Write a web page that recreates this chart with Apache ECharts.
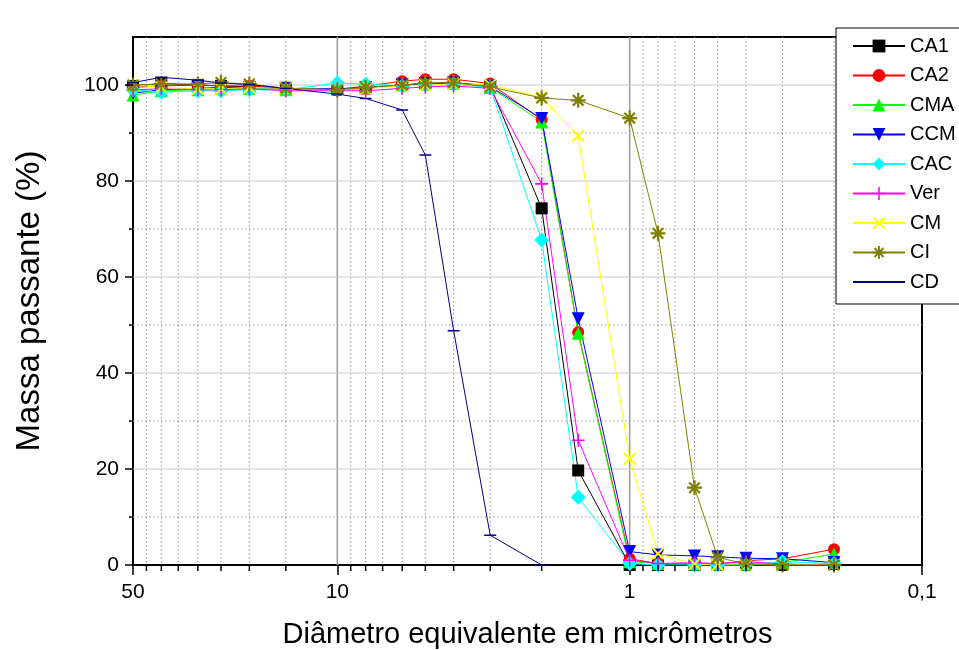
<!DOCTYPE html>
<html><head><meta charset="utf-8">
<script src="https://cdn.jsdelivr.net/npm/echarts@6/dist/echarts.min.js"></script>
<style>html,body{margin:0;padding:0;background:#fff}#c{width:959px;height:650px}</style>
</head><body><div id="c"></div>
<script>
// ---- data ----
const diameters = [50, 40, 30, 25, 20, 15, 10, 8, 6, 5, 4, 3, 2, 1.5, 1, 0.8, 0.6, 0.5, 0.4, 0.3, 0.2];
const CA1 = [99.8, 100.3, 100.0, 99.8, 99.6, 99.3, 99.0, 99.3, 100.0, 100.3, 100.5, 99.8, 74.3, 19.7, 0.0, 0.0, 0.0, 0.0, 0.0, 0.0, 0.2];
const CA2 = [99.5, 99.8, 100.0, 99.8, 99.8, 99.3, 99.0, 99.8, 100.8, 101.2, 101.2, 100.3, 92.8, 48.5, 1.3, 0.3, 0.3, 0.2, 0.9, 1.3, 3.3];
const CMA = [97.9, 98.8, 99.0, 99.2, 99.3, 99.0, 99.2, 99.5, 100.0, 100.2, 100.3, 99.5, 92.3, 48.3, 0.7, 0.3, 0.2, 0.2, 0.2, 0.5, 2.3];
const CCM = [98.3, 99.0, 99.3, 99.5, 99.5, 99.3, 99.2, 99.5, 100.0, 100.3, 100.4, 99.7, 93.0, 51.3, 2.8, 2.1, 1.9, 1.7, 1.4, 1.3, 0.5];
const CAC = [99.0, 98.5, 98.8, 98.8, 99.0, 99.0, 100.4, 100.2, 99.8, 100.0, 100.2, 99.5, 67.7, 14.1, 0.3, 0.0, 0.0, 0.0, 0.0, 0.7, 0.3];
const Ver = [99.0, 99.2, 99.0, 99.0, 99.2, 98.8, 98.8, 98.8, 99.3, 99.6, 99.8, 99.3, 79.4, 26.0, 1.0, 0.3, 0.5, 0.3, 0.7, 0.2, 0.0];
const CM  = [100.0, 99.5, 99.2, 99.2, 99.5, 99.3, 99.0, 99.3, 99.8, 100.0, 100.2, 100.0, 97.5, 89.4, 22.1, 2.4, 0.2, 0.0, 0.0, 0.0, 0.0];
const CI  = [100.0, 100.2, 100.2, 100.5, 100.2, 99.3, 99.0, 99.5, 100.0, 100.4, 100.5, 99.6, 97.3, 96.8, 93.1, 69.1, 16.1, 1.6, 0.2, 0.0, 0.0];
const CD  = [100.5, 101.6, 101.0, 100.4, 100.1, 99.3, 98.1, 97.2, 94.8, 85.4, 48.8, 6.2, 0.0, null, null, null, null, null, null, null, null];

const xMinorTicks = [45, 40, 35, 30, 25, 20, 15, 9, 8, 7, 6, 5, 4, 3, 2, 0.9, 0.8, 0.7, 0.6, 0.5, 0.4, 0.3, 0.2];
const xMajorGrid = [10, 1];
const yMajorTicks = [0, 20, 40, 60, 80, 100];
const yMinorTicks = [10, 30, 50, 70, 90];
const xTitle = 'Diâmetro equivalente em micrômetros';
const yTitle = 'Massa passante (%)';

// ---- symbols ----
const SYM_DOWN = 'path://M0,0 L20,0 L10,18 Z';
const SYM_PLUS = 'path://M0,8.8 H20 V11.2 H0 Z M8.8,0 H11.2 V20 H8.8 Z';
const SYM_X = 'path://M3.78,2.08 L17.92,16.22 L16.22,17.92 L2.08,3.78 Z M2.08,16.22 L16.22,2.08 L17.92,3.78 L3.78,17.92 Z';
const SYM_STAR = 'path://M0,8.5 H20 V11.5 H0 Z M8.5,0 H11.5 V20 H8.5 Z M4.0,1.9 L18.1,16.0 L16.0,18.1 L1.9,4.0 Z M1.9,16.0 L16.0,1.9 L18.1,4.0 L4.0,18.1 Z';
const SYM_DASH = 'path://M0,0 L0.1,0.1 Z M0,8.8 H20 V11.2 H0 Z M19.9,19.9 L20,20 Z';

function mk(name, vals, color, symbol, size) {
  return {
    type: 'line', name: name, z: 3,
    data: diameters.map((d, i) => [d, vals[i]]).filter(p => p[1] != null),
    symbol: symbol, symbolSize: size,
    lineStyle: { color: color, width: 1 },
    itemStyle: { color: color },
    emphasis: { disabled: true }
  };
}

const chart = echarts.init(document.getElementById('c'));
const font = 'Liberation Sans, Arial, sans-serif';

function vLine(style) {
  return function (params, api) {
    const p = api.coord([api.value(0), 0]);
    const cs = params.coordSys;
    return { type: 'line', shape: { x1: p[0], y1: cs.y, x2: p[0], y2: cs.y + cs.height }, style: style };
  };
}
function hLine(style) {
  return function (params, api) {
    const p = api.coord([50, api.value(0)]);
    const cs = params.coordSys;
    return { type: 'line', shape: { x1: cs.x, y1: p[1], x2: cs.x + cs.width, y2: p[1] }, style: style };
  };
}
function xTick(len) {
  return function (params, api) {
    const p = api.coord([api.value(0), 0]);
    return { type: 'line', shape: { x1: p[0], y1: p[1], x2: p[0], y2: p[1] + len }, style: { stroke: '#000', lineWidth: 1.5 } };
  };
}
function yTick(len) {
  return function (params, api) {
    const p = api.coord([50, api.value(0)]);
    return { type: 'line', shape: { x1: p[0] - len, y1: p[1], x2: p[0], y2: p[1] }, style: { stroke: '#000', lineWidth: 1.5 } };
  };
}
function customSeries(vals, render, z, isY) {
  return {
    type: 'custom', silent: true, clip: false, z: z,
    data: vals.map(v => isY ? [50, v] : [v, 0]),
    encode: { x: 0, y: 1 },
    renderItem: isY ? function (params, api) {
      return render(params, { coord: api.coord, value: function () { return api.value(1); } });
    } : render
  };
}

const dotted = { stroke: '#9a9a9a', lineWidth: 1, lineDash: [1.5, 2.5] };

chart.setOption({
  animation: false,
  backgroundColor: '#fff',
  grid: { left: 133, right: 37, top: 37, bottom: 85, containLabel: false, outerBoundsMode: 'none',
    show: true, borderColor: '#000', borderWidth: 2, backgroundColor: 'transparent' },
  xAxis: {
    type: 'log', logBase: 10, inverse: true, min: 0.1, max: 50,
    axisLine: { show: true, lineStyle: { color: '#000', width: 2 } },
    axisTick: { show: true, length: 10, lineStyle: { color: '#000', width: 1.5 } },
    axisLabel: { color: '#000', fontSize: 21, fontFamily: font, margin: 17,
      formatter: v => String(v).replace('.', ',') },
    splitLine: { show: false }, minorTick: { show: false },
    name: xTitle, nameLocation: 'middle', nameGap: 55,
    nameTextStyle: { color: '#000', fontSize: 29, fontFamily: font }
  },
  yAxis: {
    type: 'value', min: 0, max: 110, interval: 10,
    axisLine: { show: true, lineStyle: { color: '#000', width: 2 } },
    axisTick: { show: false },
    axisLabel: { color: '#000', fontSize: 21, fontFamily: font, margin: 14,
      formatter: v => (yMajorTicks.indexOf(v) >= 0 ? String(v) : '') },
    splitLine: { show: false },
    name: yTitle, nameLocation: 'middle', nameGap: 87,
    nameTextStyle: { color: '#000', fontSize: 33, fontFamily: font }
  },
  legend: {
    orient: 'vertical', left: 836, top: 28,
    padding: [8, 12, 12, 16], itemGap: 9.5, itemWidth: 52, itemHeight: 16,
    backgroundColor: '#fff', borderColor: '#000', borderWidth: 1,
    textStyle: { color: '#000', fontSize: 20, fontFamily: font, lineHeight: 20 },
    data: ['CA1', 'CA2', 'CMA', 'CCM', 'CAC', 'Ver', 'CM', 'CI', 'CD']
  },
  series: [
    customSeries(xMinorTicks, vLine(dotted), 1, false),
    customSeries(xMajorGrid, vLine({ stroke: '#9a9a9a', lineWidth: 1.5 }), 1, false),
    customSeries(yMinorTicks, hLine(dotted), 1, true),
    customSeries(yMajorTicks.slice(1), hLine({ stroke: '#c8c8c8', lineWidth: 1.2 }), 1, true),
    customSeries(xMinorTicks, xTick(6), 4, false),
    customSeries(yMajorTicks, yTick(8), 4, true),
    customSeries(yMinorTicks, yTick(4), 4, true),
    mk('CA1', CA1, '#000000', 'rect', 12),
    mk('CA2', CA2, '#ff0000', 'circle', 12),
    mk('CMA', CMA, '#00ff00', 'triangle', 13),
    mk('CCM', CCM, '#0000ff', SYM_DOWN, 13),
    mk('CAC', CAC, '#00ffff', 'diamond', 15),
    mk('Ver', Ver, '#ff00ff', SYM_PLUS, 13),
    mk('CM', CM, '#ffff00', SYM_X, 13),
    mk('CI', CI, '#808000', SYM_STAR, 15),
    mk('CD', CD, '#000080', SYM_DASH, 12)
  ]
});
</script>
</body></html>
